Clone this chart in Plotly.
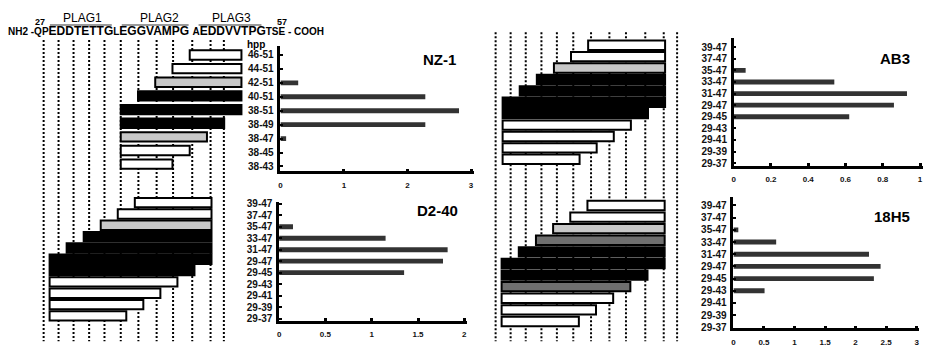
import plotly.graph_objects as go

W, H = 928, 356

# ---------------- data ----------------
nz1_peptides = ["46-51", "44-51", "42-51", "40-51", "38-51", "38-49", "38-47", "38-45", "38-43"]
nz1_start = [46, 44, 42, 40, 38, 38, 38, 38, 38]
nz1_end = [51, 51, 51, 51, 51, 49, 47, 45, 43]
nz1_values = [0, 0, 0.28, 2.28, 2.81, 2.28, 0.09, 0, 0]
nz1_shade = ["white", "white", "light", "black", "black", "black", "light", "white", "white"]

pep_labels = ["39-47", "37-47", "35-47", "33-47", "31-47", "29-47", "29-45", "29-43", "29-41", "29-39", "29-37"]
pep_start = [39, 37, 35, 33, 31, 29, 29, 29, 29, 29, 29]
pep_end = [47, 47, 47, 47, 47, 47, 45, 43, 41, 39, 37]

d240_values = [0, 0, 0.15, 1.15, 1.82, 1.77, 1.35, 0, 0, 0, 0]
d240_shade = ["white", "white", "light", "black", "black", "black", "black", "white", "white", "white", "white"]

ab3_values = [0, 0, 0.064, 0.54, 0.93, 0.86, 0.62, 0, 0, 0, 0]
ab3_shade = ["white", "white", "light", "black", "black", "black", "black", "white", "white", "white", "white"]

h18_values = [0, 0, 0.08, 0.70, 2.22, 2.41, 2.30, 0.51, 0, 0, 0]
h18_shade = ["white", "white", "light", "dark", "black", "black", "black", "dark", "white", "white", "white"]

nz1_ticks = [0, 1, 2, 3]
d240_ticks = [0, 0.5, 1, 1.5, 2]
ab3_ticks = [0, 0.2, 0.4, 0.6, 0.8, 1]
h18_ticks = [0, 0.5, 1, 1.5, 2, 2.5, 3]

# residue positions of the dotted guide lines
guide_res = [28.3, 30.05, 31.81, 33.64, 35.44, 37.35, 39.42, 41.56, 43.49, 45.74, 47.89, 49.45]

SHADES = {"white": "#ffffff", "light": "#c8c8c8", "dark": "#6f6f6f", "black": "#000000"}
FONT = "Liberation Sans, Arial, Helvetica, sans-serif"


def fx(p):
    return p / W


def fy(p):
    return 1 - p / H


fig = go.Figure()
layout_axes = {}


def idx(n):
    # top-to-bottom list -> numeric positions (top = n-1)
    return [n - 1 - k for k in range(n)]


def diagram(n, starts, ends, shades, ref_res, ref_px, s, dom_px, c0, sp, dom_py):
    xa, ya = ("x%d" % n if n > 1 else "x"), ("y%d" % n if n > 1 else "y")
    k = len(starts)
    fig.add_trace(go.Bar(
        orientation="h", y=idx(k),
        x=[e - b + 1 for b, e in zip(starts, ends)], base=starts,
        width=9.6 / sp,
        marker=dict(color=[SHADES[c] for c in shades], line=dict(color="black", width=2)),
        xaxis=xa, yaxis=ya, showlegend=False, hoverinfo="skip"))
    r0 = ref_res + (dom_px[0] - ref_px) / s
    r1 = ref_res + (dom_px[1] - ref_px) / s
    i_bot = (c0 - dom_py[1]) / sp
    i_top = (c0 - dom_py[0]) / sp
    layout_axes["xaxis%d" % n if n > 1 else "xaxis"] = dict(
        domain=[fx(dom_px[0]), fx(dom_px[1])], range=[r0, r1], visible=False,
        anchor=ya, fixedrange=True)
    layout_axes["yaxis%d" % n if n > 1 else "yaxis"] = dict(
        domain=[fy(dom_py[1]), fy(dom_py[0])], range=[i_bot, i_top], visible=False,
        anchor=xa, fixedrange=True)


def valuechart(n, labels, values, ticks, xmax, x0px, unit_px, ydom, c0, sp):
    xa, ya = "x%d" % n, "y%d" % n
    k = len(labels)
    fig.add_trace(go.Bar(
        orientation="h", y=idx(k), x=values, width=5.0 / sp,
        marker=dict(color="#333333", line=dict(width=0)),
        xaxis=xa, yaxis=ya, showlegend=False, hoverinfo="skip"))
    i_bot = (c0 - ydom[1]) / sp
    i_top = (c0 - ydom[0]) / sp
    xend = xmax * 1.015
    layout_axes["xaxis%d" % n] = dict(
        domain=[fx(x0px), fx(x0px + xend * unit_px)], range=[0, xend], anchor=ya,
        showline=True, linecolor="black", linewidth=2.5, showgrid=False, zeroline=False,
        ticks="inside", ticklen=3, tickwidth=2.5, tickcolor="black",
        tickvals=ticks, ticktext=[("%g" % t) for t in ticks],
        tickfont=dict(family=FONT, size=8, color="#111", weight="bold"),
        ticklabelstandoff=4, ticklabeloverflow="allow", fixedrange=True)
    layout_axes["yaxis%d" % n] = dict(
        domain=[fy(ydom[1]), fy(ydom[0])], range=[i_bot, i_top], anchor=xa,
        showline=True, linecolor="black", linewidth=2.5, showgrid=False, zeroline=False,
        ticks="inside", ticklen=3, tickwidth=2, tickcolor="black",
        tickvals=idx(k), ticktext=labels,
        tickfont=dict(family=FONT, size=10, color="#111", weight="bold"),
        ticklabelstandoff=2, ticklabeloverflow="allow", fixedrange=True)


# peptide bar diagrams
diagram(1, nz1_start, nz1_end, nz1_shade, 38, 119, 8.64, (30, 250), 164.3, 14.0, (40, 178))
diagram(2, pep_start, pep_end, d240_shade, 29, 47.7, 8.54, (30, 250), 320, 11.62, (195, 335))
diagram(3, pep_start, pep_end, ab3_shade, 29, 501.7, 8.57, (484, 704), 159.3, 11.7, (28, 172))
diagram(4, pep_start, pep_end, h18_shade, 29, 500.7, 8.6, (484, 704), 325.7, 11.9, (195, 335))

# value charts (origin px, px per unit)
valuechart(5, nz1_peptides, nz1_values, nz1_ticks, 3, 279, 63.7, (43.3, 171.7), 166.7, 14.3)
valuechart(6, pep_labels, d240_values, d240_ticks, 2, 277.7, 92.8, (203.3, 325), 322.7, 11.77)
valuechart(7, pep_labels, ab3_values, ab3_ticks, 1, 733.3, 186.7, (35, 165.7), 163.3, 11.9)
valuechart(8, pep_labels, h18_values, h18_ticks, 3, 733, 61.2, (197.7, 332.7), 331.7, 12.5)

shapes = []
for g in guide_res:
    shapes.append(dict(type="line", xref="x2", yref="paper", x0=g, x1=g, y0=fy(37), y1=fy(346),
                       line=dict(color="black", width=2, dash="2px,2px"), layer="below"))
    shapes.append(dict(type="line", xref="x4", yref="paper", x0=g, x1=g, y0=fy(29), y1=fy(346),
                       line=dict(color="black", width=2, dash="2px,2px"), layer="below"))

# PLAG overlines
for a, b in [(48, 110), (120, 187), (197, 260)]:
    shapes.append(dict(type="line", xref="paper", yref="paper", x0=fx(a), x1=fx(b),
                       y0=fy(21.5), y1=fy(21.5), line=dict(color="#9a9a9a", width=2)))

annotations = []


def ann(text, x, y, size, bold=True, xanchor="center"):
    annotations.append(dict(text=text, x=fx(x), y=fy(y), xref="paper", yref="paper",
                            xanchor=xanchor, yanchor="middle", showarrow=False,
                            font=dict(family=FONT, size=size, color="black",
                                      weight="bold" if bold else "normal")))


sm = "<span style='font-size:10px'>%s</span>"
seq = (sm % "NH2 -QP") + "EDDTETTG" + (sm % "L") + "EGGVAMPG\u00a0" + (sm % "A") + "EDDVVTPG" + (sm % "TSE - COOH")
ann(seq, 4, 28, 12, xanchor="left")
ann("27", 38, 18, 9)
ann("57", 281, 18, 9)
ann("PLAG1", 81, 14.5, 12, bold=False)
ann("PLAG2", 158, 14.5, 12, bold=False)
ann("PLAG3", 230, 14.5, 12, bold=False)
ann("hpp", 255, 41.5, 10)
ann("NZ-1", 438, 57, 15)
ann("D2-40", 436, 212, 15)
ann("AB3", 895, 56, 15)
ann("18H5", 892, 218, 15)

fig.update_layout(
    width=W, height=H, margin=dict(l=0, r=0, t=0, b=0),
    paper_bgcolor="white", plot_bgcolor="rgba(0,0,0,0)",
    barmode="overlay", showlegend=False,
    shapes=shapes, annotations=annotations, font=dict(family=FONT),
    **layout_axes)

fig.write_html("out.html", config={"displayModeBar": False},
               post_script="document.body.style.margin='0';document.body.style.overflow='hidden';")
